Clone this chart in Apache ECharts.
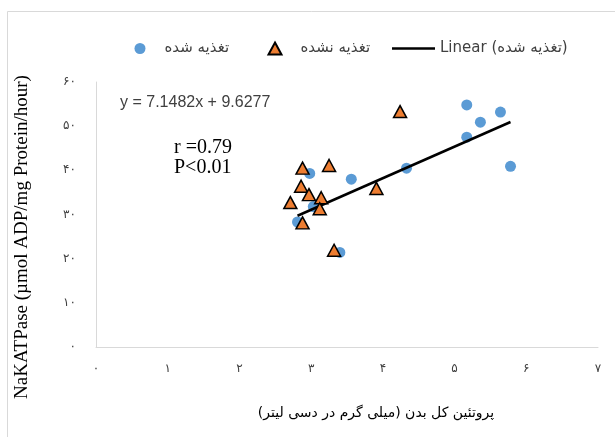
<!DOCTYPE html>
<html>
<head>
<meta charset="utf-8">
<script src="https://cdn.jsdelivr.net/npm/echarts@6/dist/echarts.min.js"></script>
<style>
  html, body { margin: 0; padding: 0; background: #ffffff; }
  #chart { width: 615px; height: 437px; }
</style>
</head>
<body>
<div id="chart"></div>
<script>
// Total body protein (x) vs. Na/K-ATPase activity (y)
const fedX   = [5.17, 5.64, 5.36, 5.17, 5.78, 4.33, 3.56, 2.98, 3.03, 2.81, 3.40];
const fedY   = [54.8, 53.2, 50.9, 47.5, 40.9, 40.5, 38.0, 39.3, 31.8, 28.3, 21.4];
const unfedX = [4.24, 2.88, 3.25, 2.86, 2.97, 2.71, 3.14, 3.12, 3.91, 2.88, 3.32];
const unfedY = [53.3, 40.5, 41.1, 36.4, 34.5, 32.7, 33.8, 31.3, 35.9, 28.1, 21.9];

// Linear fit of the fed group
const trendSlope = 7.1482;
const trendIntercept = 9.6277;

const xTickLabels = ['۰', '۱', '۲', '۳', '۴', '۵', '۶', '۷'];
const yTickLabels = ['۰', '۱۰', '۲۰', '۳۰', '۴۰', '۵۰', '۶۰'];

const seriesNames = ['تغذیه شده', 'تغذیه نشده', 'Linear (تغذیه شده)'];
// Right-to-left isolate so the closing parenthesis stays with the Persian run
const xTitle = '\u2067پروتئین کل بدن (میلی گرم در دسی لیتر)\u2069';
const yTitle = 'NaKATPase (µmol ADP/mg Protein/hour)';
const equationText = 'y = 7.1482x + 9.6277';
const statLines = ['r =0.79', 'P<0.01'];

const sansFont = 'Liberation Sans, DejaVu Sans, sans-serif';
const serifFont = 'Liberation Serif, DejaVu Serif, serif';

const fedPoints = fedX.map((x, i) => [x, fedY[i]]);
const unfedPoints = unfedX.map((x, i) => [x, unfedY[i]]);
const xLo = Math.min(...fedX), xHi = Math.max(...fedX);
const trendPoints = [[xLo, trendSlope * xLo + trendIntercept], [xHi, trendSlope * xHi + trendIntercept]];

const chart = echarts.init(document.getElementById('chart'), null, { renderer: 'canvas' });

const legendText = (padLeft) => ({
  color: '#404040', fontSize: 15, fontFamily: 'DejaVu Sans, sans-serif', padding: [0, 0, 0, padLeft]
});

chart.setOption({
  animation: false,
  backgroundColor: '#ffffff',
  grid: { left: 96, right: 17, top: 82, bottom: 90, containLabel: false },
  legend: [
    { data: [{ name: seriesNames[0], icon: 'circle' }], left: 134.5, top: 41, padding: 0, itemWidth: 11, itemHeight: 11, textStyle: legendText(14) },
    { data: [{ name: seriesNames[1], icon: 'triangle' }], left: 267.5, top: 41, padding: 0, itemWidth: 13, itemHeight: 12, textStyle: legendText(14) },
    { data: [{ name: seriesNames[2], icon: 'rect' }], left: 392, top: 41, padding: 0, itemWidth: 43, itemHeight: 2.5, textStyle: legendText(0) }
  ],
  xAxis: {
    type: 'value', min: 0, max: 7, interval: 1,
    axisLine: { show: true, onZero: false, lineStyle: { color: '#d9d9d9', width: 1 } },
    axisTick: { show: false },
    splitLine: { show: false },
    axisLabel: {
      margin: 16, color: '#404040', fontSize: 12, fontFamily: 'DejaVu Sans',
      formatter: v => xTickLabels[Math.round(v)]
    }
  },
  yAxis: {
    type: 'value', min: 0, max: 60, interval: 10,
    axisLine: { show: true, onZero: false, lineStyle: { color: '#d9d9d9', width: 1 } },
    axisTick: { show: false },
    splitLine: { show: false },
    axisLabel: {
      margin: 20, color: '#404040', fontSize: 12, fontFamily: 'DejaVu Sans',
      formatter: v => yTickLabels[Math.round(v / 10)]
    }
  },
  series: [
    {
      name: seriesNames[0], type: 'scatter', data: fedPoints,
      symbol: 'circle', symbolSize: 11,
      itemStyle: { color: '#5b9bd5', opacity: 1 }, z: 2
    },
    {
      name: seriesNames[1], type: 'scatter', data: unfedPoints,
      symbol: 'triangle', symbolSize: [13, 12],
      itemStyle: { color: '#ed7d31', borderColor: '#000000', borderWidth: 1.5, opacity: 1 }, z: 4
    },
    {
      name: seriesNames[2], type: 'line', data: trendPoints,
      symbol: 'none', lineStyle: { color: '#000000', width: 2.5 },
      itemStyle: { color: '#000000' }, z: 3
    }
  ],
  graphic: [
    { type: 'rect', shape: { x: 7.5, y: 11.5, width: 700, height: 700 }, style: { fill: 'none', stroke: '#d9d9d9', lineWidth: 1 }, silent: true },
    { type: 'text', x: 120, y: 103, style: { text: equationText, font: '16px ' + sansFont, fill: '#404040', verticalAlign: 'middle' } },
    { type: 'text', x: 174, y: 148, style: { text: statLines[0], font: '20px ' + serifFont, fill: '#000000', verticalAlign: 'middle' } },
    { type: 'text', x: 174, y: 168, style: { text: statLines[1], font: '20px ' + serifFont, fill: '#000000', verticalAlign: 'middle' } },
    { type: 'text', x: 376, y: 413, style: { text: xTitle, font: '14px DejaVu Sans', fill: '#000000', align: 'center', verticalAlign: 'middle' } },
    { type: 'text', x: 22, y: 237, rotation: Math.PI / 2, style: { text: yTitle, font: '19px ' + serifFont, fill: '#000000', align: 'center', verticalAlign: 'middle' } }
  ]
});
</script>
</body>
</html>
